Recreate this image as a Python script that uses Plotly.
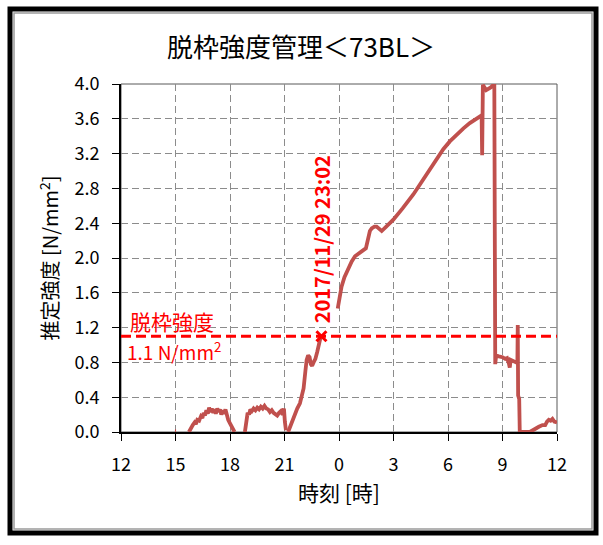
import plotly.graph_objects as go

# ---- data (hours from 2017-11-29 00:00; 24 = midnight 11/30) ----
seg_dot_x = [14.97, 15.03]
seg_dot_y = [0.01, 0.01]

seg_b_x = [15.74, 15.85, 15.95, 16.05, 16.12, 16.2, 16.3, 16.4, 16.48, 16.55, 16.62, 16.7, 16.78,
           16.85, 16.92, 17.0, 17.08, 17.15, 17.22, 17.3, 17.38, 17.45, 17.52, 17.6, 17.68, 17.75,
           17.82, 17.9, 18.0, 18.1, 18.25]
seg_b_y = [0.0, 0.05, 0.08, 0.11, 0.09, 0.14, 0.13, 0.18, 0.16, 0.22, 0.19, 0.25, 0.21,
           0.28, 0.23, 0.27, 0.22, 0.26, 0.21, 0.27, 0.23, 0.26, 0.2, 0.25, 0.21, 0.26,
           0.18, 0.14, 0.1, 0.05, 0.0]

seg_c_x = [18.82, 18.9, 18.97, 19.05, 19.12, 19.2, 19.3, 19.4, 19.5, 19.6, 19.7, 19.8, 19.9, 20.0,
           20.1, 20.2, 20.3, 20.4, 20.5, 20.6, 20.7, 20.8, 20.9, 20.97, 21.02, 21.08]
seg_c_y = [0.0, 0.12, 0.22, 0.2, 0.26, 0.24, 0.27, 0.25, 0.28, 0.26, 0.29, 0.27, 0.3, 0.27,
           0.26, 0.23, 0.25, 0.22, 0.21, 0.19, 0.22, 0.24, 0.2, 0.27, 0.12, 0.02]

seg_d_x = [21.2, 21.35, 21.5, 21.6, 21.7, 21.85, 21.95, 22.05, 22.15, 22.22, 22.3, 22.38, 22.45,
           22.52, 22.6, 22.7, 22.8, 22.9, 23.0]
seg_d_y = [0.0, 0.08, 0.18, 0.22, 0.27, 0.33, 0.42, 0.5, 0.7, 0.83, 0.88, 0.86, 0.78,
           0.76, 0.8, 0.84, 0.92, 1.02, 1.1]

seg_e_x = [23.93, 24.05, 24.14, 24.3, 24.51, 24.7, 24.88, 25.1, 25.34, 25.48, 25.55, 25.61, 25.7,
           25.8, 25.95, 26.07, 26.2, 26.35, 26.6, 26.99, 27.5, 28.09, 28.5, 29.0, 29.4, 29.74,
           30.1, 30.47, 30.85, 31.2, 31.5, 31.8, 31.85, 31.88, 31.92, 32.1, 32.35, 32.55, 32.6,
           32.65, 32.8, 33.0, 33.15, 33.25, 33.35, 33.4, 33.45, 33.6, 33.75, 33.82, 33.84, 33.86,
           33.92, 33.95, 34.2, 34.5, 34.67, 34.8, 35.0, 35.2, 35.35, 35.45, 35.55, 35.65, 35.75,
           35.85, 36.0]
seg_e_y = [1.42, 1.57, 1.67, 1.78, 1.88, 1.96, 2.02, 2.06, 2.09, 2.11, 2.18, 2.25, 2.31,
           2.34, 2.36, 2.36, 2.33, 2.31, 2.36, 2.44, 2.57, 2.73, 2.86, 3.02, 3.15, 3.25,
           3.34, 3.42, 3.49, 3.55, 3.59, 3.63, 3.64, 3.18, 3.99, 3.93, 3.96, 4.0, 0.78,
           0.88, 0.87, 0.86, 0.84, 0.85, 0.79, 0.74, 0.83, 0.82, 0.8, 0.82, 1.23, 0.42,
           0.38, 0.0, 0.0, 0.0, 0.02, 0.04, 0.06, 0.08, 0.08, 0.12, 0.14, 0.13, 0.15,
           0.12, 0.11]

threshold = 1.1
threshold_label = "脱枠強度"
threshold_value_label = "1.1 N/mm<sup>2</sup>"
reach_time = 23 + 2 / 60
reach_label = "2017/11/29 23:02"

tick_vals = [12, 15, 18, 21, 24, 27, 30, 33, 36]
tick_text = ["12", "15", "18", "21", "0", "3", "6", "9", "12"]
y_ticks = [0.0, 0.4, 0.8, 1.2, 1.6, 2.0, 2.4, 2.8, 3.2, 3.6, 4.0]

title_text = "脱枠強度管理＜73BL＞"
x_title = "時刻 [時]"
y_title = "推定強度 [N/mm<sup>2</sup>]"

# ---- layout geometry ----
W, H = 603, 545
L, R, T, B = 121, 557, 84, 432


def px(x):
    return (x - L) / (R - L)


def py(y):
    return (B - y) / (B - T)


xs, ys = [], []
for sx, sy in [(seg_dot_x, seg_dot_y), (seg_b_x, seg_b_y), (seg_c_x, seg_c_y),
               (seg_d_x, seg_d_y), (seg_e_x, seg_e_y)]:
    xs += sx + [None]
    ys += sy + [None]

FONT = "Noto Sans CJK JP, Noto Sans, sans-serif"
LINE_COLOR = "#C0504D"

fig = go.Figure()
fig.add_trace(go.Scatter(x=xs, y=ys, mode="lines", connectgaps=False,
                         line=dict(color=LINE_COLOR, width=3.8), hoverinfo="skip",
                         showlegend=False, cliponaxis=True))
fig.add_trace(go.Scatter(x=[reach_time], y=[threshold], mode="markers",
                         marker=dict(symbol="x-thin", size=10, color="#FF0000",
                                     line=dict(color="#FF0000", width=3)),
                         showlegend=False, hoverinfo="skip"))

shapes = [
    # plot box
    dict(type="rect", xref="paper", yref="paper", x0=0, x1=1, y0=0, y1=1,
         line=dict(color="#595959", width=1), layer="below"),
    # threshold line
    dict(type="line", xref="x", yref="y", x0=tick_vals[0], x1=tick_vals[-1], y0=threshold, y1=threshold,
         line=dict(color="#FF0000", width=3, dash="10px,5px"), layer="above"),
    # outer frame
    dict(type="rect", xref="paper", yref="paper", x0=px(10), x1=px(596), y0=py(9), y1=py(533),
         line=dict(color="#000000", width=5)),
    dict(type="rect", xref="paper", yref="paper", x0=px(14), x1=px(592), y0=py(13), y1=py(529),
         line=dict(color="#9a9a9a", width=1.5)),
]

annotations = [
    dict(text=title_text, xref="paper", yref="paper", x=px(301), y=py(45), showarrow=False,
         font=dict(family=FONT, size=26, color="#000000"), xanchor="center", yanchor="middle"),
    dict(text=threshold_label, xref="paper", yref="y", x=px(128), y=1.28, showarrow=False,
         font=dict(family=FONT, size=21, color="#FF0000"), xanchor="left", yanchor="middle"),
    dict(text=threshold_value_label, xref="paper", yref="y", x=px(125), y=0.93, showarrow=False,
         font=dict(family=FONT, size=19, color="#FF0000"), xanchor="left", yanchor="middle"),
    dict(text="<b>" + reach_label + "</b>", xref="x", yref="y", x=reach_time, y=2.22, showarrow=False,
         textangle=-90, font=dict(family=FONT, size=20, color="#FF0000"),
         xanchor="center", yanchor="middle"),
]

fig.update_layout(
    width=W, height=H,
    margin=dict(l=L, r=W - R, t=T, b=H - B, pad=0),
    paper_bgcolor="white", plot_bgcolor="white",
    font=dict(family=FONT, size=16, color="#000000"),
    shapes=shapes, annotations=annotations,
    xaxis=dict(range=[12, 36], tickvals=tick_vals, ticktext=tick_text,
               showgrid=True, gridcolor="#8c8c8c", gridwidth=1, griddash="7px,4px",
               showline=True, linecolor="#000000", linewidth=2,
               ticks="outside", ticklen=7, tickcolor="#000000", tickwidth=1,
               tickfont=dict(size=18), zeroline=False, ticklabelstandoff=8,
               title=dict(text=x_title, font=dict(size=21), standoff=12)),
    yaxis=dict(range=[0, 4.0], tickvals=y_ticks, tickformat=".1f",
               showgrid=True, gridcolor="#8c8c8c", gridwidth=1, griddash="7px,4px",
               showline=True, linecolor="#000000", linewidth=2,
               ticks="outside", ticklen=7, tickcolor="#000000", tickwidth=1,
               tickfont=dict(size=18), zeroline=False, ticklabelstandoff=9,
               title=dict(text=y_title, font=dict(size=20), standoff=10)),
)

fig.write_html("out.html")
